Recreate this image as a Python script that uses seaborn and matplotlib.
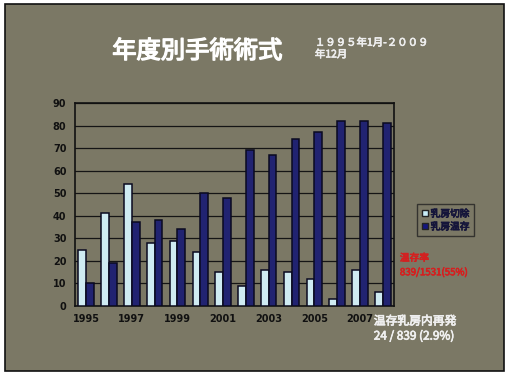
import pandas as pd
import matplotlib.pyplot as plt
import seaborn as sns
from matplotlib.patches import Rectangle, Patch
import matplotlib.patheffects as pe

years = list(range(1995, 2009))
mastectomy = [25, 41, 54, 28, 29, 24, 15, 9, 16, 15, 12, 3, 16, 6]
conserving = [10, 19, 37, 38, 34, 50, 48, 69, 67, 74, 77, 82, 82, 81]
series_names = ["乳房切除", "乳房温存"]
tick_years = [1995, 1997, 1999, 2001, 2003, 2005, 2007]

bg = "#7b7865"

sns.set_theme(style="white")
plt.rcParams['font.family'] = ['Noto Sans CJK JP', 'DejaVu Sans']


def bold(color, w=0.7):
    # CJK font has no bold face here, so thicken with a stroke
    return [pe.withStroke(linewidth=w, foreground=color)]


df = pd.DataFrame({
    "year": [str(y) for y in years] * 2,
    "count": mastectomy + conserving,
    "type": [series_names[0]] * len(years) + [series_names[1]] * len(years),
})

fig = plt.figure(figsize=(5.12, 3.79), dpi=100, facecolor="white")
fig.patches.append(Rectangle((0.01, 0.02), 0.975, 0.97, transform=fig.transFigure,
                             facecolor=bg, edgecolor="#111111", linewidth=1.2, zorder=-10))
ax = fig.add_axes([0.146, 0.193, 0.624, 0.535])
ax.set_facecolor(bg)

sns.barplot(data=df, x="year", y="count", hue="type", ax=ax,
            palette=["#c9eef8", "#14167e"], width=0.68,
            edgecolor="#0a0a20", linewidth=1.1, legend=False, zorder=3)

ax.set_ylim(0, 90)
ax.set_yticks(range(0, 91, 10))
ax.yaxis.grid(True, color="#151515", linewidth=0.9, zorder=0)
ax.set_axisbelow(True)
ax.set_xticks([years.index(y) for y in tick_years])
ax.set_xticklabels([str(y) for y in tick_years])
ax.tick_params(axis="both", labelsize=7, length=0, pad=6, colors="#111111")
for lab in ax.get_xticklabels() + ax.get_yticklabels():
    lab.set_fontfamily("DejaVu Sans")
    lab.set_fontweight("bold")
ax.set_xlabel("")
ax.set_ylabel("")
for s in ax.spines.values():
    s.set_color("#111111")
    s.set_linewidth(1.2)

fig.text(0.385, 0.865, "年度別手術術式", color="white", fontsize=17.5,
         ha="center", va="center", path_effects=bold("white", 1.0))
fig.text(0.615, 0.872, "１９９５年1月-２００９\n年12月", color="#eeeeee",
         fontsize=7.5, ha="left", va="center", linespacing=1.2,
         path_effects=bold("#eeeeee", 0.5))

handles = [Patch(facecolor="#c9eef8", edgecolor="#222222"),
           Patch(facecolor="#14167e", edgecolor="#222222")]
leg = fig.legend(handles, series_names, loc="upper left", bbox_to_anchor=(0.805, 0.475),
                 fontsize=7, frameon=True, handlelength=0.6, handleheight=0.6,
                 handletextpad=0.3, borderpad=0.5, labelspacing=0.3)
leg.get_frame().set_facecolor(bg)
leg.get_frame().set_edgecolor("#222222")
leg.get_frame().set_boxstyle("square", pad=0)
for t in leg.get_texts():
    t.set_color("#15153a")
    t.set_path_effects(bold("#15153a", 0.5))

fig.text(0.781, 0.30, "温存率\n839/1531(55%)", color="#d42020", fontsize=7,
         ha="left", va="center", linespacing=1.4, path_effects=bold("#d42020", 0.5))
fig.text(0.73, 0.133, "温存乳房内再発\n24 / 839 (2.9%)", color="#f0f0f0", fontsize=8.5,
         ha="left", va="center", linespacing=1.2, path_effects=bold("#f0f0f0", 0.5))

fig.savefig("out.png", dpi=100, facecolor=fig.get_facecolor())
